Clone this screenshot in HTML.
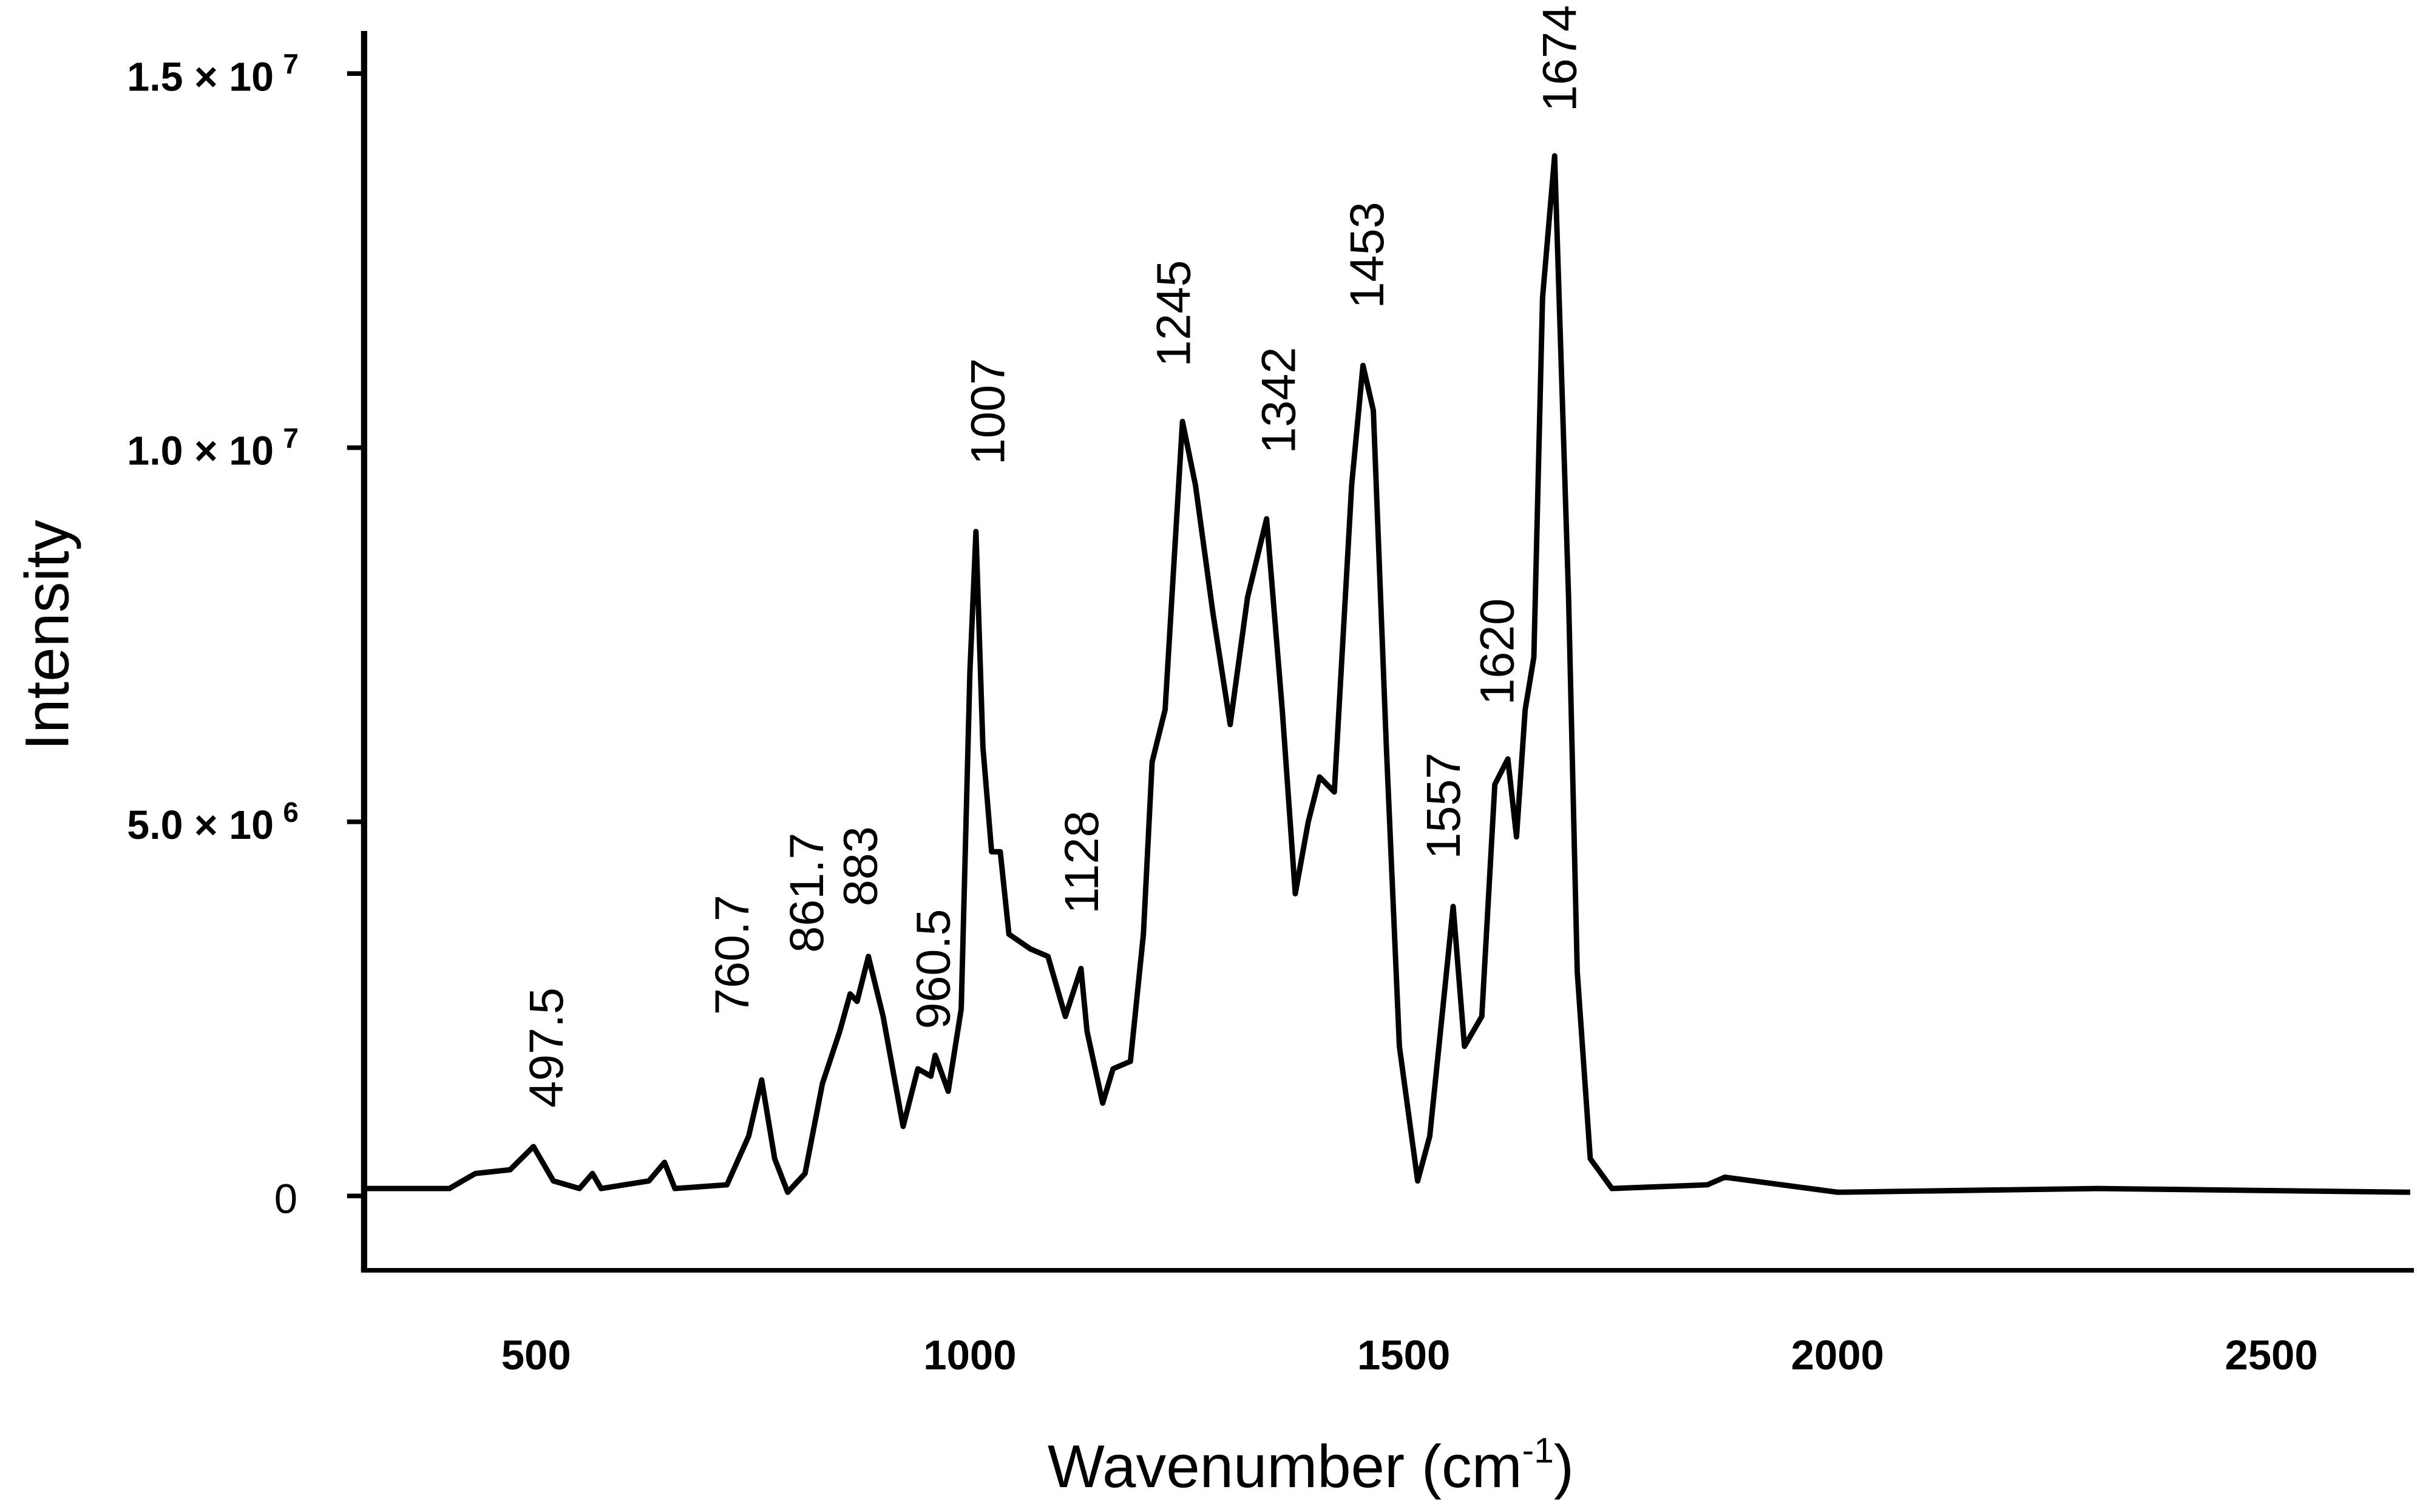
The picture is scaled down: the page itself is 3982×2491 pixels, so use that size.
<!DOCTYPE html>
<html><head><meta charset="utf-8"><style>
html,body{margin:0;padding:0;background:#fff;}
svg{display:block;}
text{font-family:"Liberation Sans",sans-serif;}
</style></head><body>
<svg id="chart" width="3982" height="2491" viewBox="0 0 1560 976" preserveAspectRatio="none" xmlns="http://www.w3.org/2000/svg">
<rect width="1560" height="976" fill="#fff"/>
<g id="axes"></g>
<path id="spectrum" fill="none" stroke="#000" stroke-width="3.5" stroke-linejoin="round"/>
<g id="peaks"></g>
<text x="44" y="410" font-size="40" text-anchor="middle" transform="rotate(-90 44 410)">Intensity</text>
<text x="846" y="960" font-size="39" text-anchor="middle">Wavenumber (cm<tspan font-size="23" dy="-16">-1</tspan><tspan dy="16">)</tspan></text>
</svg>
<script>
const wn = [302,400,430,470,497,520,550,565,575,630,648,660,720,745,760,775,790,810,830,850,862,870,883,900,923,940,955,960,975,990,1000,1007,1015,1025,1035,1045,1070,1090,1110,1128,1135,1153,1165,1185,1200,1210,1225,1245,1260,1280,1300,1320,1342,1360,1375,1390,1403,1420,1440,1453,1465,1480,1495,1516,1530,1545,1557,1570,1590,1605,1620,1630,1640,1650,1660,1674,1690,1700,1715,1740,1850,1870,2000,2300,2660];
const intensity = [0.1,0.1,0.3,0.35,0.66,0.2,0.1,0.3,0.1,0.2,0.45,0.1,0.15,0.8,1.55,0.5,0.05,0.3,1.5,2.2,2.7,2.6,3.2,2.4,0.93,1.7,1.6,1.88,1.4,2.5,7.0,8.88,6.0,4.6,4.6,3.5,3.3,3.2,2.4,3.04,2.2,1.24,1.7,1.8,3.5,5.8,6.5,10.35,9.5,7.8,6.3,8.0,9.05,6.5,4.04,5.0,5.6,5.4,9.5,11.1,10.5,6.0,2.0,0.2,0.8,2.5,3.87,2.0,2.4,5.5,5.84,4.8,6.5,7.2,12.0,13.9,8.0,3.0,0.5,0.1,0.15,0.25,0.05,0.1,0.05];
const xTicks = [500,1000,1500,2000,2500];
const yTicks = [0,5,10,15];
const yTickLabels = ["0","5.0 × 10","1.0 × 10","1.5 × 10"];
const yTickExp = ["","6","7","7"];
const peakLabels = ["497.5","760.7","861.7","883","960.5","1007","1128","1245","1342","1453","1557","1620","1674"];
const peakLabelWn = [511,725,811,873,957,1020,1128,1234,1355,1457,1545,1607,1679];
const peakLabelIntensity = [1.18,2.42,3.25,3.87,2.23,9.77,3.77,11.08,9.92,11.86,4.5,6.56,14.49];

const NS="http://www.w3.org/2000/svg";
const X = v => 346 + (v-500)*0.56;
const Y = v => 772 - v*48.3;
const axes=document.getElementById('axes');
function mk(tag,attrs,parent){const e=document.createElementNS(NS,tag);for(const k in attrs)e.setAttribute(k,attrs[k]);parent.appendChild(e);return e;}
let l=mk('line',{x1:235,y1:20,x2:235,y2:820,stroke:'#000','stroke-width':4},axes);


l=mk('line',{x1:233,y1:820,x2:1558,y2:820,stroke:'#000','stroke-width':3},axes);


xTicks.forEach(v=>{
  const t=mk('text',{x:X(v),y:884,'font-size':27,'font-weight':'bold','text-anchor':'middle'},axes);
  t.textContent=v;
  
  
});
yTicks.forEach((v,i)=>{
  const tk=mk('line',{x1:224,y1:Y(v),x2:235,y2:Y(v),stroke:'#000','stroke-width':3},axes);
  
  
  const t=mk('text',{x:i===0?177:82,y:Y(v)+11,'font-size':i===0?27:26,'font-weight':i===0?'normal':'bold','text-anchor':'start'},axes);
  t.textContent=yTickLabels[i];
  if(yTickExp[i]){const s=mk('tspan',{dx:6,dy:-11,'font-size':18},t);s.textContent=yTickExp[i];}
  
  
});
let d='';
wn.forEach((w,i)=>{d+=(i?'L':'M')+X(w).toFixed(1)+','+Y(intensity[i]).toFixed(1);});
document.getElementById('spectrum').setAttribute('d',d);
const pk=document.getElementById('peaks');
peakLabels.forEach((lab,i)=>{
  const x=X(peakLabelWn[i])+11, y=Y(peakLabelIntensity[i]);
  const t=mk('text',{x:x,y:y,'font-size':31,'text-anchor':'start',transform:`rotate(-90 ${x} ${y})`},pk);
  t.textContent=lab;
  
  
});
</script>
</body></html>
